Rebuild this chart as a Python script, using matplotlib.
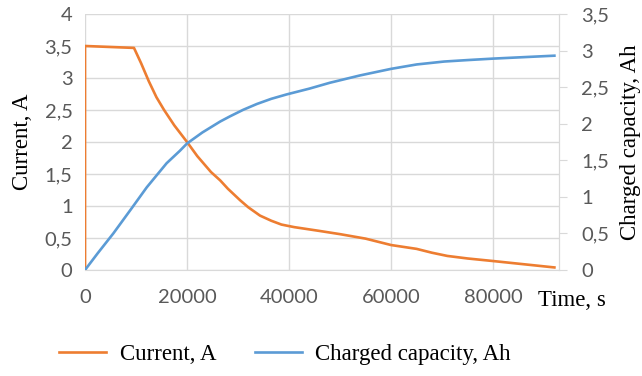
import matplotlib.pyplot as plt
import numpy as np
from matplotlib.ticker import FuncFormatter

# current vs time
t_current = [0, 0, 9600, 11000, 12500, 14000, 15500, 17500, 20000, 22000, 24700,
             26500, 28000, 30400, 32000, 34300, 36500, 38500, 41000, 46000, 50000,
             55000, 57000, 60000, 65000, 68000, 71000, 75000, 80000, 86000, 92000]
current = [0, 3.50, 3.47, 3.23, 2.95, 2.70, 2.50, 2.26, 2.00, 1.78, 1.53,
           1.40, 1.27, 1.09, 0.98, 0.85, 0.77, 0.71, 0.67, 0.61, 0.56,
           0.49, 0.45, 0.39, 0.33, 0.27, 0.22, 0.18, 0.14, 0.09, 0.04]

# charged capacity vs time
t_capacity = [0, 2500, 5550, 9000, 12100, 16000, 18600, 20000, 23000, 26500, 28400,
              31000, 33700, 36500, 39500, 44000, 48000, 53900, 60000, 65000, 70400,
              75000, 80000, 86000, 92000]
capacity = [0, 0.23, 0.50, 0.83, 1.13, 1.46, 1.63, 1.73, 1.88, 2.03, 2.10,
            2.19, 2.27, 2.34, 2.40, 2.48, 2.56, 2.66, 2.75, 2.81, 2.85,
            2.87, 2.89, 2.91, 2.93]

orange = '#ED7D31'
blue = '#5B9BD5'
tick_col = '#595959'
grid_col = '#D9D9D9'
serif = 'Liberation Serif'
sans = 'Lato'

comma = FuncFormatter(lambda v, p: ('%g' % v).replace('.', ','))

fig = plt.figure(figsize=(6.42, 3.76), dpi=100)
ax = fig.add_axes([0.1324, 0.2819, 0.7383, 0.6809])
ax2 = ax.twinx()

l1, = ax.plot(t_current, current, color=orange, linewidth=1.9, label='Current, A')
l2, = ax2.plot(t_capacity, capacity, color=blue, linewidth=1.9, label='Charged capacity, Ah')

ax.set_xlim(0, 92900)
ax.set_ylim(0, 4)
ax2.set_ylim(0, 3.5)
ax.set_xticks(np.arange(0, 80001, 20000))
ax.set_yticks(np.arange(0, 4.01, 0.5))
ax2.set_yticks(np.arange(0, 3.51, 0.5))
ax.yaxis.set_major_formatter(comma)
ax2.yaxis.set_major_formatter(comma)

ax.grid(True, color=grid_col, linewidth=1)
ax.set_axisbelow(True)

for a in (ax, ax2):
    for s in ('top', 'left'):
        a.spines[s].set_visible(False)
    a.spines['bottom'].set_color(grid_col)
    a.spines['right'].set_color(grid_col)
ax2.spines['bottom'].set_visible(False)

ax.tick_params(axis='y', length=0, labelsize=14.5, labelcolor=tick_col, pad=9)
ax.tick_params(axis='x', length=0, labelsize=14.5, labelcolor=tick_col, pad=14)
ax2.tick_params(axis='y', length=6, color=grid_col, labelsize=14.5, labelcolor=tick_col, pad=10)
for lab in ax.get_xticklabels() + ax.get_yticklabels() + ax2.get_yticklabels():
    lab.set_fontfamily(sans)

ax.set_ylabel('Current, A', fontsize=16.5, family=serif, labelpad=8)
ax2.set_ylabel('Charged capacity, Ah', fontsize=16.5, family=serif, labelpad=8)
fig.text(0.838, 0.202, 'Time, s', fontsize=16.5, family=serif, ha='left', va='center')

fig.legend(handles=[l1, l2], loc='center', bbox_to_anchor=(0.444, 0.058), ncol=2,
           frameon=False, prop={'family': serif, 'size': 16.5},
           handlelength=2.05, columnspacing=1.7, handletextpad=0.57)

fig.savefig('out.png', dpi=100)
